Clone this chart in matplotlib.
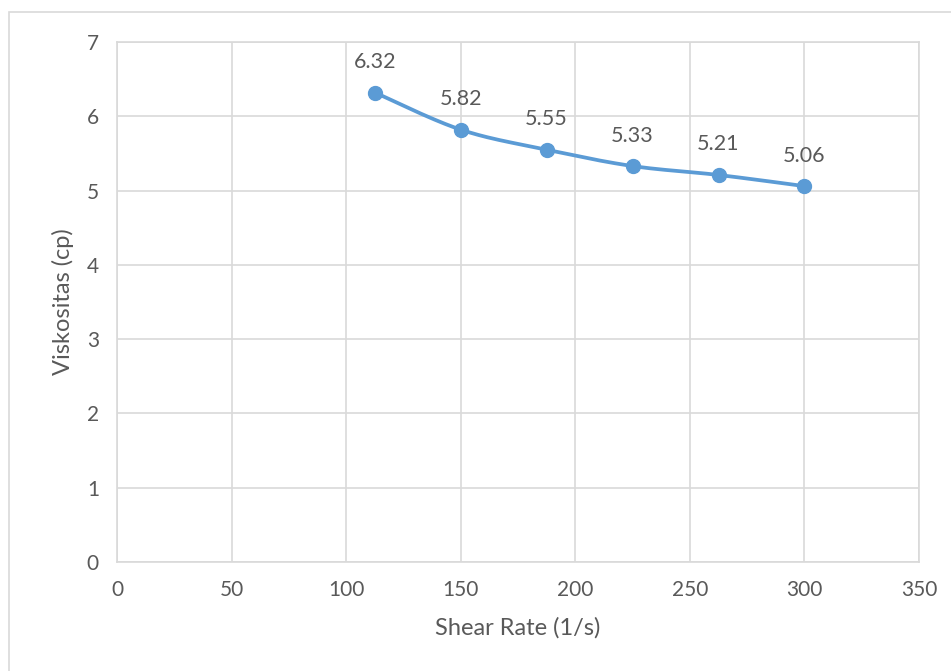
import numpy as np
import matplotlib.pyplot as plt
from matplotlib.patches import Rectangle

# data
shear_rate = [112.5, 150, 187.5, 225, 262.5, 300]
viscosity = [6.32, 5.82, 5.55, 5.33, 5.21, 5.06]
labels = ["6.32", "5.82", "5.55", "5.33", "5.21", "5.06"]

plt.rcParams['font.family'] = ['Lato', 'DejaVu Sans']
text_color = '#595959'
grid_color = '#D9D9D9'
line_color = '#5B9BD5'


def smooth(xs, ys, n=30):
    # catmull-rom style smoothing like the spreadsheet "smoothed line"
    px = [xs[0]] + list(xs) + [xs[-1]]
    py = [ys[0]] + list(ys) + [ys[-1]]
    ox, oy = [], []
    for i in range(1, len(px) - 2):
        t = np.linspace(0, 1, n)
        for p, out in ((px, ox), (py, oy)):
            p0, p1, p2, p3 = p[i - 1], p[i], p[i + 1], p[i + 2]
            out.extend(0.5 * ((2 * p1) + (-p0 + p2) * t
                              + (2 * p0 - 5 * p1 + 4 * p2 - p3) * t ** 2
                              + (-p0 + 3 * p1 - 3 * p2 + p3) * t ** 3))
    return ox, oy


fig = plt.figure(figsize=(9.51, 6.71), dpi=100)
fig.patches.append(Rectangle((9 / 951, -0.01), 1.0, 1 - 12 / 671 + 0.01,
                             transform=fig.transFigure, fill=False,
                             edgecolor=grid_color, linewidth=1.2))
ax = fig.add_axes([117 / 951, 1 - 562 / 671, 802 / 951, 520 / 671])

sx, sy = smooth(shear_rate, viscosity)
ax.plot(sx, sy, color=line_color, linewidth=2.7, zorder=3)
ax.plot(shear_rate, viscosity, 'o', color=line_color, markersize=10, zorder=4)
for x, y, s in zip(shear_rate, viscosity, labels):
    ax.annotate(s, (x, y), xytext=(0, 22), textcoords='offset points',
                ha='center', va='center', fontsize=15.5, color=text_color)

ax.set_xlim(0, 350)
ax.set_ylim(0, 7)
ax.set_xticks(range(0, 351, 50))
ax.set_yticks(range(0, 8))
ax.grid(True, color=grid_color, linewidth=1.2)
ax.set_axisbelow(True)
for sp in ax.spines.values():
    sp.set_color(grid_color)
    sp.set_linewidth(1.2)
ax.tick_params(length=0, labelsize=15, colors=text_color, pad=13)
ax.set_xlabel('Shear Rate (1/s)', fontsize=17, color=text_color, labelpad=12)
ax.set_ylabel('Viskositas (cp)', fontsize=17, color=text_color, labelpad=9)

fig.savefig('out.png', dpi=100)
